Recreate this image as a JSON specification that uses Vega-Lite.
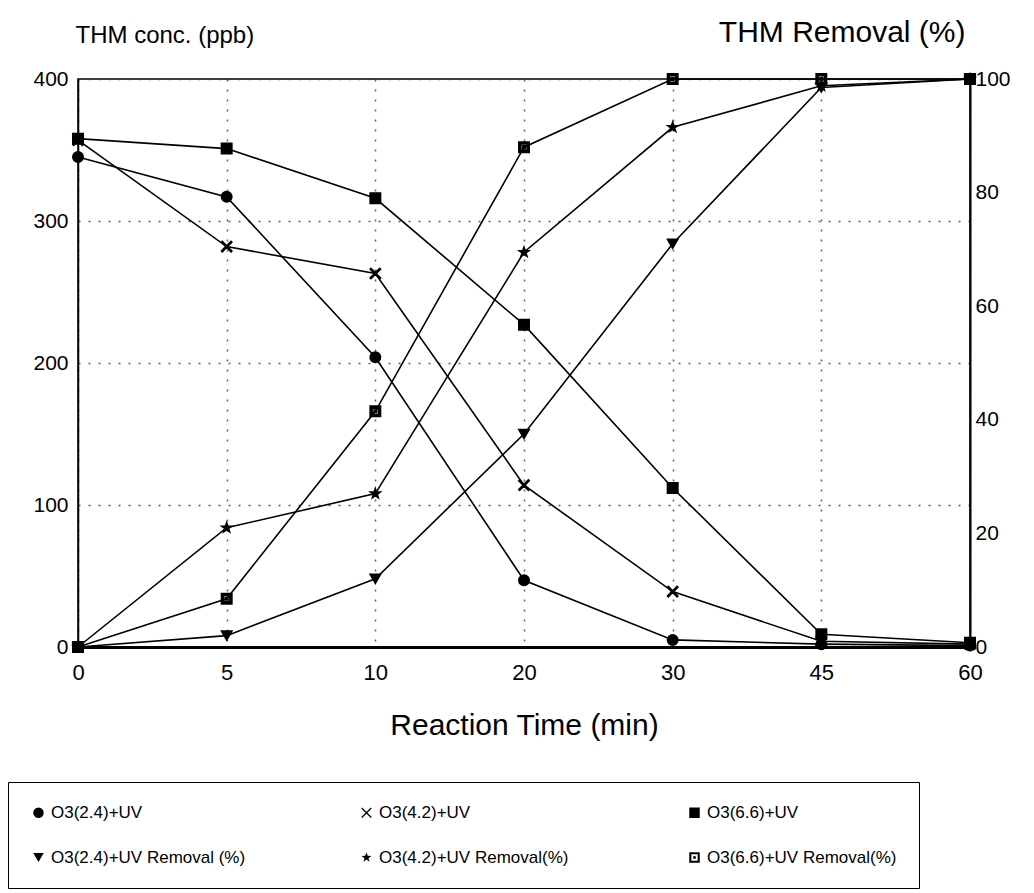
{
  "$schema": "https://vega.github.io/schema/vega-lite/v6.json",
  "width": 892,
  "height": 568,
  "autosize": {"type": "none"},
  "padding": {"left": 78, "top": 79, "right": 64, "bottom": 246},
  "background": "white",
  "config": {
    "font": "Liberation Sans",
    "view": {"stroke": "black", "strokeWidth": 1.5}
  },
  "data": {
    "values": [
      {"t": "0", "series": "O3(2.4)+UV", "kind": "conc", "v": 345},
      {"t": "5", "series": "O3(2.4)+UV", "kind": "conc", "v": 317},
      {"t": "10", "series": "O3(2.4)+UV", "kind": "conc", "v": 204},
      {"t": "20", "series": "O3(2.4)+UV", "kind": "conc", "v": 47},
      {"t": "30", "series": "O3(2.4)+UV", "kind": "conc", "v": 5},
      {"t": "45", "series": "O3(2.4)+UV", "kind": "conc", "v": 2},
      {"t": "60", "series": "O3(2.4)+UV", "kind": "conc", "v": 1},
      {"t": "0", "series": "O3(4.2)+UV", "kind": "conc", "v": 357},
      {"t": "5", "series": "O3(4.2)+UV", "kind": "conc", "v": 282},
      {"t": "10", "series": "O3(4.2)+UV", "kind": "conc", "v": 263},
      {"t": "20", "series": "O3(4.2)+UV", "kind": "conc", "v": 114},
      {"t": "30", "series": "O3(4.2)+UV", "kind": "conc", "v": 39},
      {"t": "45", "series": "O3(4.2)+UV", "kind": "conc", "v": 4},
      {"t": "60", "series": "O3(4.2)+UV", "kind": "conc", "v": 2},
      {"t": "0", "series": "O3(6.6)+UV", "kind": "conc", "v": 358},
      {"t": "5", "series": "O3(6.6)+UV", "kind": "conc", "v": 351},
      {"t": "10", "series": "O3(6.6)+UV", "kind": "conc", "v": 316},
      {"t": "20", "series": "O3(6.6)+UV", "kind": "conc", "v": 227},
      {"t": "30", "series": "O3(6.6)+UV", "kind": "conc", "v": 112},
      {"t": "45", "series": "O3(6.6)+UV", "kind": "conc", "v": 9},
      {"t": "60", "series": "O3(6.6)+UV", "kind": "conc", "v": 3},
      {"t": "0", "series": "O3(2.4)+UV Removal (%)", "kind": "rem", "v": 0},
      {"t": "5", "series": "O3(2.4)+UV Removal (%)", "kind": "rem", "v": 2},
      {"t": "10", "series": "O3(2.4)+UV Removal (%)", "kind": "rem", "v": 12},
      {"t": "20", "series": "O3(2.4)+UV Removal (%)", "kind": "rem", "v": 37.5},
      {"t": "30", "series": "O3(2.4)+UV Removal (%)", "kind": "rem", "v": 71},
      {"t": "45", "series": "O3(2.4)+UV Removal (%)", "kind": "rem", "v": 98.5},
      {"t": "60", "series": "O3(2.4)+UV Removal (%)", "kind": "rem", "v": 100},
      {"t": "0", "series": "O3(4.2)+UV Removal(%)", "kind": "rem", "v": 0},
      {"t": "5", "series": "O3(4.2)+UV Removal(%)", "kind": "rem", "v": 21},
      {"t": "10", "series": "O3(4.2)+UV Removal(%)", "kind": "rem", "v": 27},
      {"t": "20", "series": "O3(4.2)+UV Removal(%)", "kind": "rem", "v": 69.5},
      {"t": "30", "series": "O3(4.2)+UV Removal(%)", "kind": "rem", "v": 91.5},
      {"t": "45", "series": "O3(4.2)+UV Removal(%)", "kind": "rem", "v": 98.8},
      {"t": "60", "series": "O3(4.2)+UV Removal(%)", "kind": "rem", "v": 100},
      {"t": "0", "series": "O3(6.6)+UV Removal(%)", "kind": "rem", "v": 0},
      {"t": "5", "series": "O3(6.6)+UV Removal(%)", "kind": "rem", "v": 8.5},
      {"t": "10", "series": "O3(6.6)+UV Removal(%)", "kind": "rem", "v": 41.5},
      {"t": "20", "series": "O3(6.6)+UV Removal(%)", "kind": "rem", "v": 88},
      {"t": "30", "series": "O3(6.6)+UV Removal(%)", "kind": "rem", "v": 100},
      {"t": "45", "series": "O3(6.6)+UV Removal(%)", "kind": "rem", "v": 100},
      {"t": "60", "series": "O3(6.6)+UV Removal(%)", "kind": "rem", "v": 100}
    ]
  },
  "encoding": {
    "x": {
      "field": "t",
      "type": "ordinal",
      "sort": ["0", "5", "10", "20", "30", "45", "60"],
      "scale": {"type": "point", "padding": 0, "domain": ["0", "5", "10", "20", "30", "45", "60"]},
      "axis": {
        "title": "Reaction Time (min)",
        "labelAngle": 0,
        "ticks": false,
        "labelPadding": 15,
        "labelFontSize": 22,
        "labelColor": "black",
        "titleFontSize": 30,
        "titleFontWeight": "normal",
        "titleColor": "black",
        "titlePadding": 27,
        "domainColor": "black",
        "domainWidth": 3,
        "grid": true,
        "gridDash": [2, 8],
        "gridColor": "#333355",
        "gridWidth": 1.5,
        "gridOpacity": 0.8
      }
    }
  },
  "layer": [
    {
      "transform": [{"filter": "datum.kind === 'conc'"}],
      "encoding": {
        "y": {
          "field": "v",
          "type": "quantitative",
          "scale": {"domain": [0, 400], "nice": false},
          "axis": {
            "orient": "left",
            "title": "THM conc. (ppb)",
            "values": [0, 100, 200, 300, 400],
            "ticks": false,
            "labelPadding": 10,
            "labelFontSize": 21,
            "labelColor": "black",
            "domainColor": "black",
            "domainWidth": 1.5,
            "titleAngle": 0,
            "titleAlign": "left",
            "titleBaseline": "middle",
            "titleX": -3,
            "titleY": -44,
            "titleFontSize": 24,
            "titleFontWeight": "normal",
            "titleColor": "black",
            "grid": true,
            "gridDash": [2, 8],
            "gridColor": "#333355",
            "gridWidth": 1.5,
            "gridOpacity": 0.8
          }
        }
      },
      "layer": [
        {
          "mark": {"type": "line", "color": "black", "strokeWidth": 1.6},
          "encoding": {"detail": {"field": "series", "type": "nominal"}}
        },
        {
          "mark": {"type": "point", "filled": true, "fill": "black", "stroke": "black", "strokeWidth": 1.5, "size": 110, "opacity": 1},
          "encoding": {
            "shape": {
              "field": "series",
              "type": "nominal",
              "scale": {
                "domain": ["O3(2.4)+UV", "O3(4.2)+UV", "O3(6.6)+UV", "O3(2.4)+UV Removal (%)", "O3(4.2)+UV Removal(%)", "O3(6.6)+UV Removal(%)"],
                "range": ["circle", "M0.834,-1.004L1.004,-0.834L0.17,0L1.004,0.834L0.834,1.004L0,0.17L-0.834,1.004L-1.004,0.834L-0.17,0L-1.004,-0.834L-0.834,-1.004L0,-0.17Z", "square", "triangle-down", "M0,-1L0.235,-0.324L0.951,-0.309L0.38,0.124L0.588,0.809L0,0.4L-0.588,0.809L-0.38,0.124L-0.951,-0.309L-0.235,-0.324Z", "M-1,-1H1V1H-1Z M-0.6,-0.6V0.6H0.6V-0.6Z M-0.25,-0.25H0.25V0.25H-0.25Z"]
              },
              "legend": {
                "title": null,
                "orient": "none",
                "legendX": -70,
                "legendY": 703,
                "direction": "horizontal",
                "columns": 3,
                "gridAlign": "all",
                "columnPadding": 112,
                "rowPadding": 27,
                "padding": 22,
                "strokeColor": "black",
                "fillColor": "white",
                "labelFont": "Liberation Sans",
                "labelFontSize": 17,
                "labelColor": "black",
                "labelLimit": 400,
                "symbolSize": 110,
                "symbolFillColor": "black",
                "symbolStrokeColor": "black",
                "symbolStrokeWidth": 1
              }
            }
          }
        }
      ]
    },
    {
      "transform": [{"filter": "datum.kind === 'rem'"}],
      "encoding": {
        "y": {
          "field": "v",
          "type": "quantitative",
          "scale": {"domain": [0, 100], "nice": false},
          "axis": {
            "orient": "right",
            "title": "THM Removal (%)",
            "values": [0, 20, 40, 60, 80, 100],
            "ticks": false,
            "labelPadding": 5,
            "labelFontSize": 21,
            "labelColor": "black",
            "domainColor": "black",
            "domainWidth": 2,
            "titleAngle": 0,
            "titleAlign": "right",
            "titleBaseline": "middle",
            "titleX": -5,
            "titleY": -47,
            "titleFontSize": 30,
            "titleFontWeight": "normal",
            "titleColor": "black",
            "grid": false
          }
        }
      },
      "layer": [
        {
          "mark": {"type": "line", "color": "black", "strokeWidth": 1.6},
          "encoding": {"detail": {"field": "series", "type": "nominal"}}
        },
        {
          "mark": {"type": "point", "filled": true, "fill": "black", "stroke": "black", "strokeWidth": 1.5, "size": 110, "opacity": 1},
          "encoding": {
            "shape": {
              "field": "series",
              "type": "nominal",
              "scale": {
                "domain": ["O3(2.4)+UV", "O3(4.2)+UV", "O3(6.6)+UV", "O3(2.4)+UV Removal (%)", "O3(4.2)+UV Removal(%)", "O3(6.6)+UV Removal(%)"],
                "range": ["circle", "M0.834,-1.004L1.004,-0.834L0.17,0L1.004,0.834L0.834,1.004L0,0.17L-0.834,1.004L-1.004,0.834L-0.17,0L-1.004,-0.834L-0.834,-1.004L0,-0.17Z", "square", "triangle-down", "M0,-1L0.235,-0.324L0.951,-0.309L0.38,0.124L0.588,0.809L0,0.4L-0.588,0.809L-0.38,0.124L-0.951,-0.309L-0.235,-0.324Z", "M-1,-1H1V1H-1Z M-0.6,-0.6V0.6H0.6V-0.6Z M-0.25,-0.25H0.25V0.25H-0.25Z"]
              },
              "legend": {
                "title": null,
                "orient": "none",
                "legendX": -70,
                "legendY": 703,
                "direction": "horizontal",
                "columns": 3,
                "gridAlign": "all",
                "columnPadding": 112,
                "rowPadding": 27,
                "padding": 22,
                "strokeColor": "black",
                "fillColor": "white",
                "labelFont": "Liberation Sans",
                "labelFontSize": 17,
                "labelColor": "black",
                "labelLimit": 400,
                "symbolSize": 110,
                "symbolFillColor": "black",
                "symbolStrokeColor": "black",
                "symbolStrokeWidth": 1
              }
            }
          }
        }
      ]
    }
  ],
  "resolve": {"scale": {"y": "independent"}}
}
